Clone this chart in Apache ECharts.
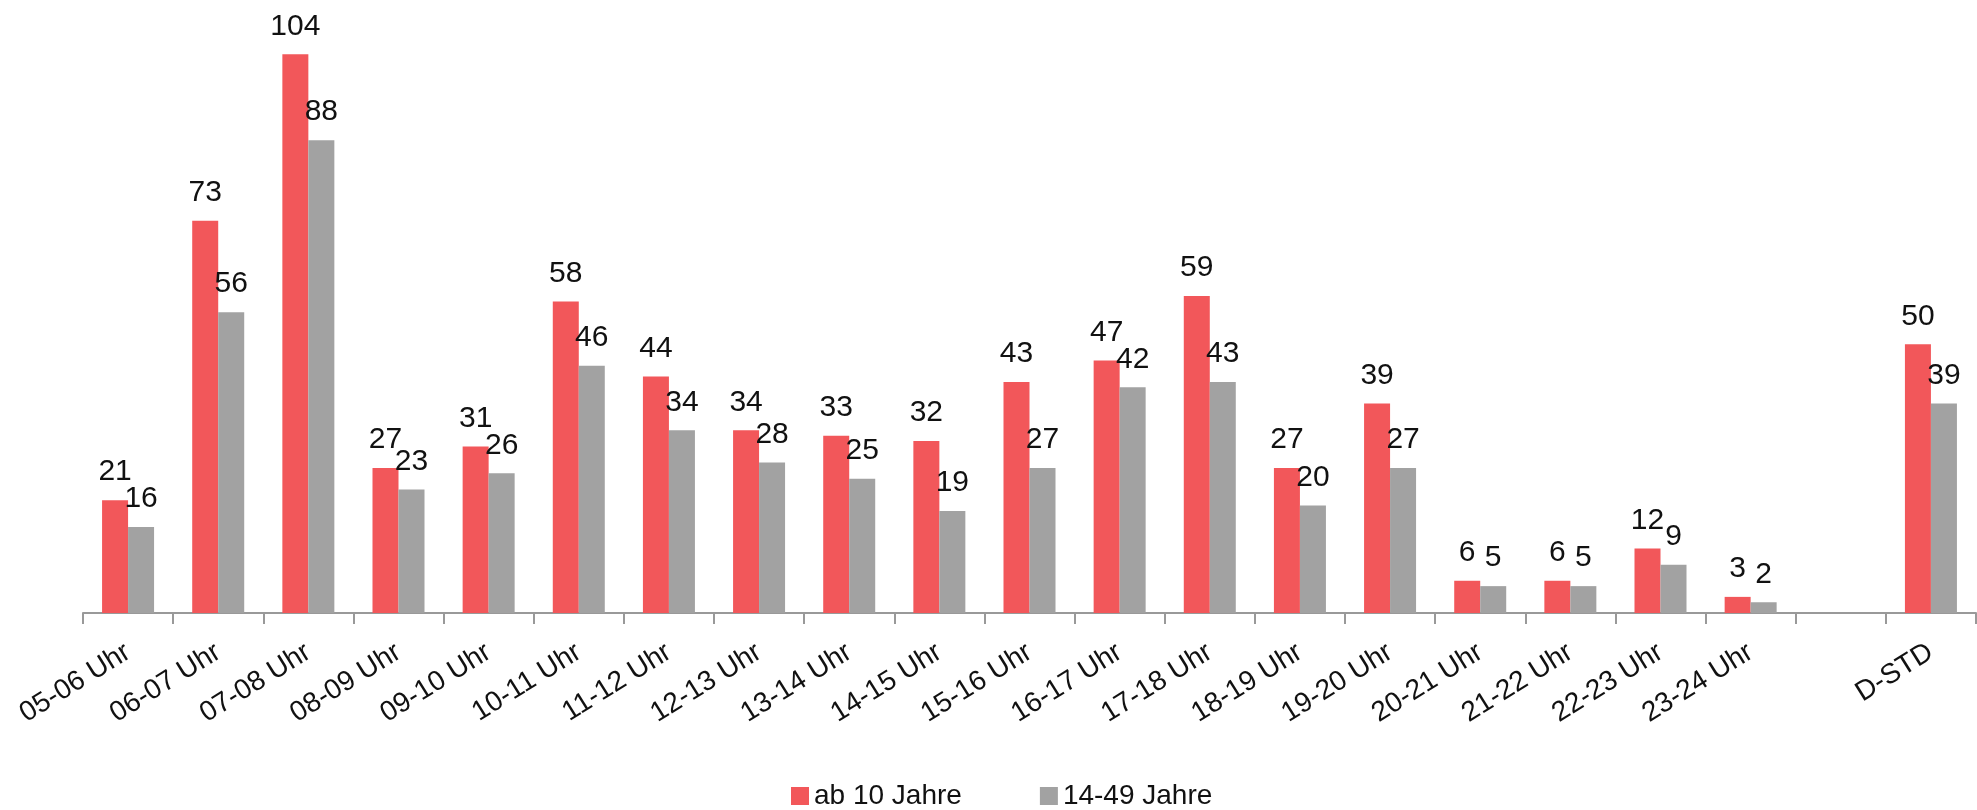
<!DOCTYPE html>
<html>
<head>
<meta charset="utf-8">
<script src="https://cdn.jsdelivr.net/npm/echarts@6/dist/echarts.min.js"></script>
<style>
html,body{margin:0;padding:0;background:#fff;}
#chart{width:1977px;height:810px;}
</style>
</head>
<body>
<div id="chart"></div>
<script>
const categories = ['05-06 Uhr','06-07 Uhr','07-08 Uhr','08-09 Uhr','09-10 Uhr','10-11 Uhr','11-12 Uhr','12-13 Uhr','13-14 Uhr','14-15 Uhr','15-16 Uhr','16-17 Uhr','17-18 Uhr','18-19 Uhr','19-20 Uhr','20-21 Uhr','21-22 Uhr','22-23 Uhr','23-24 Uhr','','D-STD'];
const ab10 = [21,73,104,27,31,58,44,34,33,32,43,47,59,27,39,6,6,12,3,null,50];
const age1449 = [16,56,88,23,26,46,34,28,25,19,27,42,43,20,27,5,5,9,2,null,39];
const seriesNames = ['ab 10 Jahre','14-49 Jahre'];

const FONT = "'Liberation Sans',Arial,sans-serif";
const chart = echarts.init(document.getElementById('chart'), null, {renderer:'canvas'});
const labelCfg = {show:true, position:'top', distance:13, fontFamily:FONT, fontSize:30, color:'#111'};
chart.setOption({
  animation:false,
  textStyle:{fontFamily:FONT},
  grid:{left:83, right:1, top:22, bottom:197, containLabel:false},
  legend:{
    data:seriesNames, left:791, top:782, padding:0, itemWidth:18, itemHeight:18, itemGap:78,
    icon:'rect',
    textStyle:{fontFamily:FONT, fontSize:28, color:'#111'}
  },
  xAxis:{
    type:'category', data:categories,
    axisLine:{lineStyle:{color:'#999', width:2}},
    axisTick:{show:true, length:11, lineStyle:{color:'#999', width:2}, alignWithLabel:false, interval:0},
    axisLabel:{interval:0, rotate:32, margin:37, fontFamily:FONT, fontSize:28, color:'#111'}
  },
  yAxis:{type:'value', min:0, max:110, show:false, splitLine:{show:false}},
  series:[
    {name:seriesNames[0], type:'bar', data:ab10, barWidth:26, barGap:'0%', itemStyle:{color:'#F2575A'}, label:labelCfg},
    {name:seriesNames[1], type:'bar', data:age1449, barWidth:26, barGap:'0%', itemStyle:{color:'#A2A2A2'}, label:labelCfg}
  ]
});
</script>
</body>
</html>
